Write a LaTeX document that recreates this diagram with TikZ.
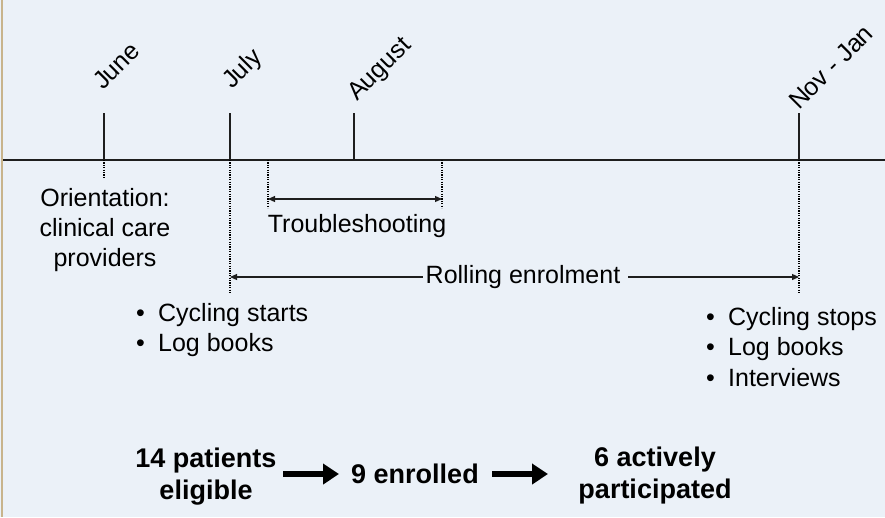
\documentclass[tikz,border=0pt]{standalone}
\usepackage{fontspec}
\setmainfont{Liberation Sans}
\usetikzlibrary{arrows.meta}
\usetikzlibrary{positioning}
\definecolor{slidebg}{HTML}{EBF1F8}
\definecolor{slideedge}{HTML}{C8B48C}
\definecolor{ink}{HTML}{1E1E1E}
\tikzstyle{month} = [font=\fontsize{25}{25}\selectfont, rotate=45, anchor=base west,
inner sep=0pt]
\tikzstyle{tick} = [draw=ink, line width=1.5pt]
\tikzstyle{guide} = [draw=black, line width=1.3pt, dash pattern=on 1.2pt off 1.2pt]
\tikzstyle{caption} = [font=\fontsize{25}{30}\selectfont, inner sep=0pt]
\tikzstyle{span} = [draw=ink, line width=1.2pt]
\tikzstyle{count} = [font=\fontsize{27}{32}\selectfont\bfseries, align=center, inner sep=0pt]
\tikzstyle{flow} = [draw=black, line width=6.5pt, -{Triangle[length=16pt,width=20pt]}]
\tikzset{>={Triangle[length=7pt,width=6pt]}}
\newcommand{\bul}{\makebox[22pt][l]{\textbullet}}

\begin{document}
\begin{tikzpicture}[x=1pt,y=-1pt]
  \useasboundingbox (0,0) rectangle (885,517);
  \fill[slidebg] (0,0) rectangle (885,517);
  \draw[slideedge, line width=1.5pt] (2,0) -- (2,517);

  % time axis
  \coordinate (axis start) at (3,160);
  \coordinate (axis end) at (885,160);
  \draw[ink, line width=2pt] (axis start) -- (axis end);

  \foreach \name/\x in {june/104, july/230, aug/354, novjan/799} {
    \coordinate (\name) at (\x,160);
    \coordinate (\name top) at (\x,113);
    \draw[tick] (\name top) -- (\name);
  }

  \node[month] (june label) at (103,91) {June};
  \node[month] (july label) at (232,90) {July};
  \node[month] (aug label) at (357,102) {August};
  \node[month] (novjan label) at (799,111) {Nov - Jan};

  % dotted guides below the axis
  \coordinate (tsl) at (268,160);
  \coordinate (tsr) at (442,160);
  \foreach \name/\bot in {june/178, july/293, tsl/208, tsr/208, novjan/293} {
    \coordinate (\name end) at (\name |- 0,\bot);
    \draw[guide] (\name) -- (\name end);
  }

  \coordinate (ts left) at (268,199);
  \coordinate (ts right) at (442,199);
  \draw[span, <->] (ts left) -- (ts right);
  \node[caption, anchor=base] (trouble) at (357,232) {Troubleshooting};

  \node[caption, inner xsep=3pt] (rolling) at (523,277) {Rolling enrolment};
  \draw[span, ->] (rolling.west) -- (rolling.west -| july);
  \draw[span, ->] (rolling.east) ++(5,0) coordinate (roll gap) -- (rolling.east -| novjan);

  \node[caption, align=center, anchor=north] (orient) at (105,188)
    {Orientation:\\clinical care\\providers};

  \node[caption, align=left, anchor=north west] (start list) at (136,303)
    {\bul Cycling starts\\\bul Log books};
  \node[caption, align=left, anchor=north west, font=\fontsize{25}{30.5}\selectfont]
    (stop list) at (706,307) {\bul Cycling stops\\\bul Log books\\\bul Interviews};

  % patient flow
  \node[count] (eligible) at (206,477) {14 patients\\eligible};
  \node[count] (enrolled) at (415,474) {9 enrolled};
  \node[count] (active) at (655,476) {6 actively\\participated};
  \coordinate (f1 start) at (283,474);
  \coordinate (f1 end) at (339,474);
  \coordinate (f2 start) at (492,474);
  \coordinate (f2 end) at (548,474);
  \draw[flow] (f1 start) -- (f1 end);
  \draw[flow] (f2 start) -- (f2 end);
\end{tikzpicture}
\end{document}
